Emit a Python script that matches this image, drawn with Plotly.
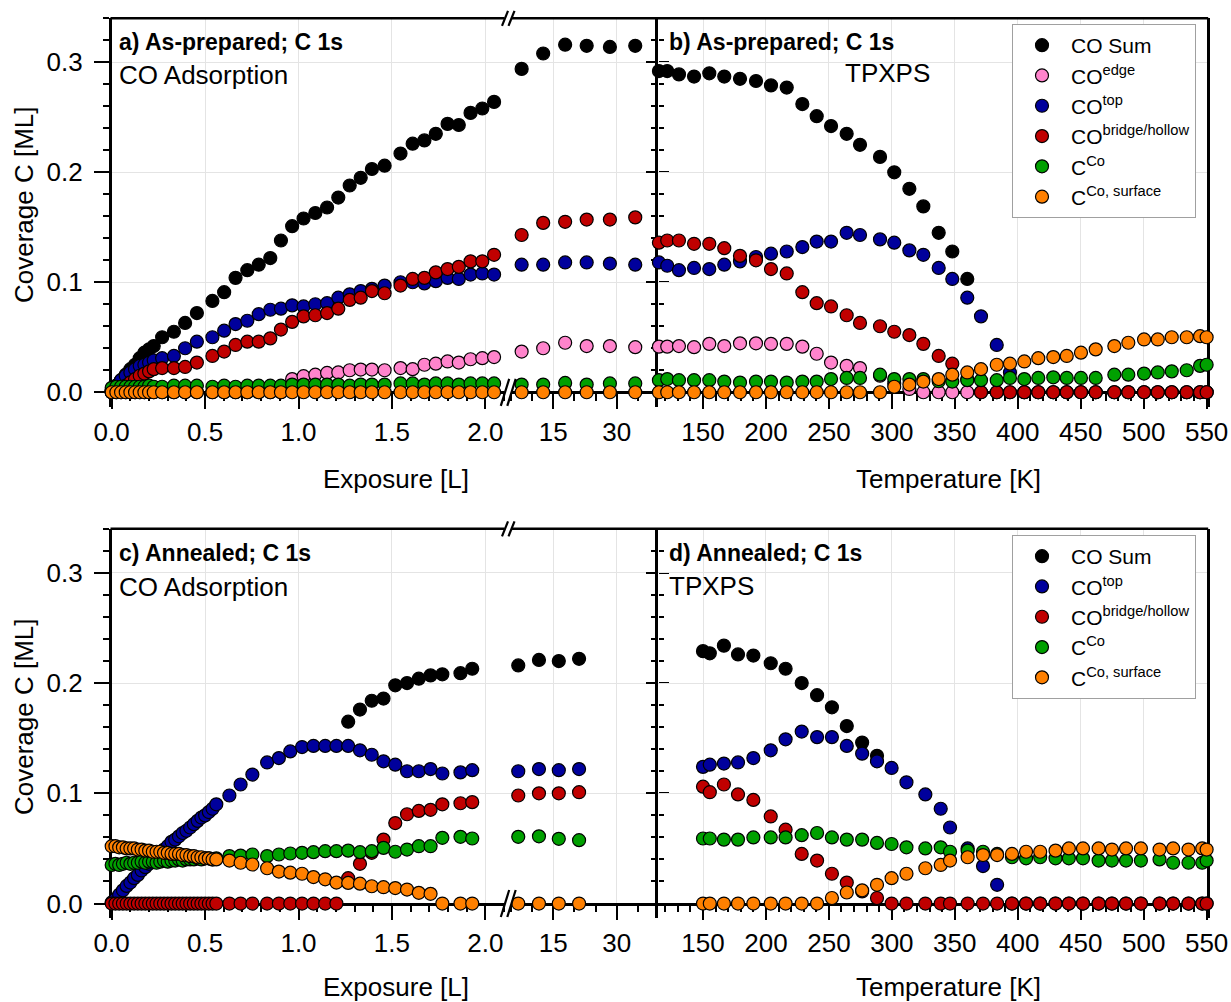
import plotly.graph_objects as go

# ---------------- data ----------------
# Panel a (as-prepared, CO adsorption), exposure segment 0-2.1 L
E_a = [0.0, 0.025, 0.05, 0.075, 0.10, 0.125, 0.15, 0.175, 0.20, 0.225,
       0.27, 0.333, 0.393, 0.456, 0.539, 0.602, 0.663, 0.726, 0.787, 0.849,
       0.906, 0.966, 1.027, 1.09, 1.153, 1.213, 1.274, 1.333, 1.393, 1.461,
       1.546, 1.611, 1.674, 1.735, 1.798, 1.858, 1.921, 1.984, 2.047]
sum_a = [0.002, 0.006, 0.011, 0.016, 0.021, 0.025, 0.031, 0.036, 0.039, 0.042,
         0.050, 0.055, 0.063, 0.072, 0.083, 0.091, 0.104, 0.111, 0.116, 0.122,
         0.138, 0.151, 0.158, 0.163, 0.168, 0.177, 0.188, 0.195, 0.203, 0.206,
         0.217, 0.226, 0.229, 0.235, 0.244, 0.243, 0.254, 0.258, 0.264]
edge_a = [0.0, 0.0, 0.0, 0.0, 0.0, 0.0, 0.0, 0.0, 0.0, 0.0,
          0.0, 0.0, 0.0, 0.0, 0.0, 0.0, 0.0, 0.0, 0.0, 0.0,
          0.0, 0.012, 0.0146, 0.016, 0.0176, 0.018, 0.020, 0.0206, 0.0206, 0.020,
          0.022, 0.021, 0.025, 0.026, 0.028, 0.027, 0.030, 0.031, 0.032]
top_a = [0.002, 0.006, 0.011, 0.015, 0.018, 0.021, 0.024, 0.025, 0.027, 0.029,
         0.031, 0.033, 0.040, 0.046, 0.050, 0.056, 0.062, 0.065, 0.071, 0.075,
         0.076, 0.079, 0.078, 0.080, 0.081, 0.086, 0.089, 0.092, 0.094, 0.097,
         0.100, 0.100, 0.099, 0.101, 0.104, 0.103, 0.107, 0.108, 0.107]
bridge_a = [0.000, 0.002, 0.004, 0.006, 0.009, 0.012, 0.015, 0.017, 0.019, 0.021,
            0.022, 0.022, 0.023, 0.027, 0.033, 0.037, 0.043, 0.046, 0.046, 0.049,
            0.057, 0.064, 0.069, 0.070, 0.072, 0.076, 0.084, 0.086, 0.092, 0.090,
            0.097, 0.103, 0.104, 0.109, 0.112, 0.114, 0.119, 0.119, 0.125]
cco_a = [0.004, 0.005, 0.005, 0.005, 0.005, 0.005, 0.005, 0.005, 0.006, 0.005,
         0.005, 0.006, 0.006, 0.006, 0.005, 0.006, 0.005, 0.006, 0.006, 0.006,
         0.006, 0.007, 0.007, 0.007, 0.007, 0.007, 0.006, 0.007, 0.007, 0.007,
         0.008, 0.008, 0.007, 0.008, 0.008, 0.007, 0.008, 0.008, 0.008]
surf_a = [0.0, 0.0, 0.0, 0.0, 0.0, 0.0, 0.0, 0.0, 0.0, 0.0,
          0.0, 0.0, 0.0, 0.0, 0.0, 0.0, 0.0, 0.0, 0.0, 0.0,
          0.0, 0.0, 0.0, 0.0, 0.0, 0.0, 0.0, 0.0, 0.0, 0.0,
          0.0, 0.0, 0.0, 0.0, 0.0, 0.0, 0.0, 0.0, 0.0]

# Panel a, high-exposure segment (after axis break)
E_a2 = [7.5, 12.6, 17.8, 22.9, 28.4, 34.4]
sum_a2 = [0.294, 0.308, 0.316, 0.315, 0.314, 0.315]
edge_a2 = [0.037, 0.040, 0.045, 0.042, 0.042, 0.041]
top_a2 = [0.116, 0.116, 0.118, 0.118, 0.117, 0.116]
bridge_a2 = [0.143, 0.154, 0.155, 0.157, 0.157, 0.159]
cco_a2 = [0.007, 0.007, 0.0085, 0.007, 0.008, 0.008]
surf_a2 = [0.0, 0.0, 0.0, 0.0, 0.0, 0.0]

# Panel b (as-prepared, TPXPS)
T_b = [115, 121.6, 130.9, 142.9, 155, 166.9, 179.4, 192.1, 204, 216.5,
       228.9, 240.3, 251.7, 264.1, 274.7, 290.6, 301.9, 313.9, 325, 337.2,
       348, 359.9, 370.8, 383.3, 393.8, 405.2, 416.3, 428.2, 438.9, 450.2,
       461.9, 476.7, 487.8, 500.3, 511.2, 522.3, 534.2, 544.8, 550]
sum_b = [0.292, 0.292, 0.289, 0.287, 0.290, 0.287, 0.285, 0.283, 0.279, 0.277,
         0.262, 0.251, 0.242, 0.235, 0.225, 0.214, 0.200, 0.185, 0.169, 0.145,
         0.128, 0.103, None, None, None, None, None, None, None, None,
         None, None, None, None, None, None, None, None, None]
edge_b = [0.0415, 0.0415, 0.042, 0.041, 0.044, 0.042, 0.0445, 0.0445, 0.044, 0.044,
          0.0415, 0.035, 0.027, 0.024, 0.022, 0.015, 0.008, 0.003, 0.0, 0.0,
          0.0, 0.0, 0.0, 0.0, 0.0, 0.0, 0.0, 0.0, 0.0, 0.0,
          0.0, 0.0, 0.0, 0.0, 0.0, 0.0, 0.0, 0.0, 0.0]
top_b = [0.118, 0.115, 0.111, 0.113, 0.112, 0.116, 0.119, 0.123, 0.126, 0.128,
         0.132, 0.137, 0.137, 0.145, 0.143, 0.139, 0.136, 0.129, 0.125, 0.113,
         0.103, 0.086, 0.069, 0.043, 0.018, 0.0, 0.0, 0.0, 0.0, 0.0,
         0.0, 0.0, 0.0, 0.0, 0.0, 0.0, 0.0, 0.0, 0.0]
bridge_b = [0.136, 0.138, 0.138, 0.135, 0.135, 0.131, 0.124, 0.120, 0.112, 0.108,
            0.091, 0.081, 0.078, 0.070, 0.063, 0.060, 0.055, 0.052, 0.044, 0.033,
            0.026, 0.012, 0.0, 0.0, 0.0, 0.0, 0.0, 0.0, 0.0, 0.0,
            0.0, 0.0, 0.0, 0.0, 0.0, 0.0, 0.0, 0.0, 0.0]
cco_b = [0.011, 0.012, 0.011, 0.011, 0.011, 0.0097, 0.0088, 0.0097, 0.0097, 0.0088,
         0.0097, 0.0097, 0.012, 0.013, 0.013, 0.016, 0.012, 0.012, 0.012, 0.010,
         0.0097, 0.011, 0.011, 0.011, 0.013, 0.012, 0.013, 0.0136, 0.013, 0.013,
         0.013, 0.016, 0.016, 0.017, 0.018, 0.019, 0.020, 0.024, 0.025]
surf_b = [0.0, 0.0, 0.0, 0.0, 0.0, 0.0, 0.0, 0.0, 0.0, 0.0,
          0.0, 0.0, 0.0, 0.0, 0.0, 0.0, 0.005, 0.007, 0.0097, 0.012,
          0.016, 0.018, 0.021, 0.025, 0.026, 0.028, 0.031, 0.032, 0.033, 0.036,
          0.039, 0.042, 0.045, 0.048, 0.048, 0.050, 0.050, 0.051, 0.050]

# Panel c (annealed, CO adsorption)
E_c = [0.00, 0.02, 0.04, 0.06, 0.08, 0.10, 0.12, 0.14, 0.16, 0.18,
       0.20, 0.22, 0.24, 0.26, 0.28, 0.30, 0.32, 0.34, 0.36, 0.38,
       0.40, 0.42, 0.44, 0.46, 0.48, 0.50, 0.52, 0.54, 0.56,
       0.63, 0.69, 0.753, 0.832, 0.895, 0.956, 1.019, 1.08, 1.143, 1.203,
       1.266, 1.329, 1.392, 1.455, 1.518, 1.581, 1.644, 1.707, 1.770, 1.867, 1.930]
sum_c = [None, None, None, None, None, None, None, None, None, None,
         None, None, None, None, None, None, None, None, None, None,
         None, None, None, None, None, None, None, None, None,
         None, None, None, None, None, None, None, None, None, None,
         0.165, 0.176, 0.184, 0.186, 0.198, 0.200, 0.204, 0.207, 0.208, 0.209, 0.213]
top_c = [0.001, 0.004, 0.008, 0.012, 0.016, 0.019, 0.023, 0.026, 0.030, 0.033,
         0.036, 0.040, 0.043, 0.046, 0.049, 0.052, 0.056, 0.058, 0.061, 0.064,
         0.066, 0.069, 0.072, 0.075, 0.078, 0.080, 0.083, 0.086, 0.090,
         0.098, 0.108, 0.117, 0.128, 0.132, 0.138, 0.142, 0.143, 0.143, 0.143,
         0.143, 0.139, 0.135, 0.129, 0.126, 0.120, 0.120, 0.122, 0.118, 0.119, 0.121]
bridge_c = [0.0, 0.0, 0.0, 0.0, 0.0, 0.0, 0.0, 0.0, 0.0, 0.0,
            0.0, 0.0, 0.0, 0.0, 0.0, 0.0, 0.0, 0.0, 0.0, 0.0,
            0.0, 0.0, 0.0, 0.0, 0.0, 0.0, 0.0, 0.0, 0.0,
            0.0, 0.0, 0.0, 0.0, 0.0, 0.0, 0.0, 0.0, 0.0, 0.0,
            0.023, 0.036, 0.046, 0.058, 0.073, 0.081, 0.084, 0.085, 0.090, 0.091, 0.092]
cco_c = [0.035, 0.036, 0.035, 0.036, 0.037, 0.036, 0.037, 0.037, 0.038, 0.037,
         0.038, 0.038, 0.037, 0.038, 0.039, 0.038, 0.039, 0.039, 0.040, 0.039,
         0.040, 0.040, 0.040, 0.041, 0.040, 0.041, 0.041, 0.040, 0.041,
         0.043, 0.0435, 0.0445, 0.043, 0.0445, 0.0454, 0.046, 0.0466, 0.0475, 0.0475,
         0.048, 0.0466, 0.0475, 0.0505, 0.047, 0.049, 0.052, 0.052, 0.0596, 0.0605, 0.059]
surf_c = [0.052, 0.052, 0.051, 0.051, 0.050, 0.050, 0.050, 0.049, 0.049, 0.048,
          0.048, 0.047, 0.047, 0.047, 0.046, 0.046, 0.045, 0.045, 0.045, 0.044,
          0.044, 0.043, 0.043, 0.042, 0.042, 0.041, 0.041, 0.040, 0.040,
          0.039, 0.037, 0.0354, 0.032, 0.029, 0.028, 0.027, 0.024, 0.022, 0.019,
          0.0187, 0.018, 0.0157, 0.0148, 0.014, 0.0127, 0.0097, 0.0088, 0.0, 0.0, 0.0]

E_c2 = [6.7, 11.6, 16.3, 21.1]
sum_c2 = [0.216, 0.221, 0.220, 0.222]
top_c2 = [0.120, 0.122, 0.121, 0.122]
bridge_c2 = [0.098, 0.100, 0.100, 0.101]
cco_c2 = [0.0605, 0.061, 0.0587, 0.0575]
surf_c2 = [0.0, 0.0, 0.0, 0.0]

# Panel d (annealed, TPXPS)
T_d = [150, 155.4, 166.6, 177.8, 190, 203.8, 215.6, 228.4, 240.6, 252.4,
       264.2, 276.4, 288.2, 299.8, 311.6, 326.6, 338.8, 346.2, 360.2, 372.4,
       383.6, 395.4, 406.6, 417.8, 430, 440.6, 451.8, 464.2, 474.8, 486,
       497.8, 512.6, 523.4, 535.6, 546.5, 550]
sum_d = [0.229, 0.227, 0.234, 0.226, 0.225, 0.218, 0.213, 0.200, 0.189, 0.178,
         0.161, 0.146, 0.134, None, None, None, None, None, None, None,
         None, None, None, None, None, None, None, None, None, None,
         None, None, None, None, None, None]
top_d = [0.124, 0.126, 0.127, 0.128, 0.132, 0.139, 0.149, 0.156, 0.151, 0.151,
         0.143, 0.136, 0.129, 0.123, 0.110, 0.099, 0.086, 0.069, 0.050, 0.034,
         0.017, 0.0, 0.0, 0.0, 0.0, 0.0, 0.0, 0.0, 0.0, 0.0,
         0.0, 0.0, 0.0, 0.0, 0.0, 0.0]
bridge_d = [0.106, 0.101, 0.108, 0.099, 0.094, 0.079, 0.067, 0.045, 0.039, 0.027,
            0.019, 0.011, 0.005, 0.0, 0.0, 0.0, 0.0, 0.0, 0.0, 0.0,
            0.0, 0.0, 0.0, 0.0, 0.0, 0.0, 0.0, 0.0, 0.0, 0.0,
            0.0, 0.0, 0.0, 0.0, 0.0, 0.0]
cco_d = [0.059, 0.059, 0.058, 0.058, 0.060, 0.060, 0.060, 0.062, 0.064, 0.060,
         0.058, 0.058, 0.055, 0.054, 0.051, 0.050, 0.051, 0.047, 0.048, 0.047,
         0.045, 0.042, 0.041, 0.042, 0.041, 0.041, 0.041, 0.039, 0.039, 0.039,
         0.039, 0.040, 0.037, 0.037, 0.037, 0.039]
surf_d = [0.0, 0.0, 0.0, 0.0, 0.0, 0.0, 0.0, 0.0, 0.0, 0.005,
          0.010, 0.012, 0.017, 0.023, 0.027, 0.032, 0.035, 0.039, 0.042, 0.044,
          0.044, 0.045, 0.047, 0.047, 0.048, 0.050, 0.050, 0.050, 0.049, 0.050,
          0.050, 0.049, 0.050, 0.049, 0.050, 0.049]

names = {
    "sum": "CO Sum",
    "edge": "CO<sup>edge</sup>",
    "top": "CO<sup>top</sup>",
    "bridge": "CO<sup>bridge/hollow</sup>",
    "cco": "C<sup>Co</sup>",
    "surf": "C<sup>Co, surface</sup>",
}
colors = {
    "sum": "#000000",
    "edge": "#FF84CC",
    "top": "#00009C",
    "bridge": "#C00000",
    "cco": "#00A000",
    "surf": "#FF8000",
}

# ---------------- geometry (pixels) ----------------
W, H = 1231, 1002
FONT = "Liberation Sans, Arial, Helvetica, sans-serif"
X0, XB, XM, XR = 111.7, 508.0, 658.3, 1207.0
TOP1, ZERO1, BOT1 = 18.3, 392.3, 407.0
TOP2, ZERO2, BOT2 = 528.8, 903.5, 918.3
YR = [-0.0134, 0.34]


def fx(p):
    return p / W


def fy(p):
    return 1 - p / H


fig = go.Figure()


def add(x, y, key, xa, ya, legend=None):
    fig.add_trace(go.Scatter(
        x=x, y=y, mode="markers", name=names[key],
        marker=dict(size=13, color=colors[key], line=dict(color="black", width=1.2)),
        xaxis=xa, yaxis=ya, cliponaxis=False,
        showlegend=legend is not None, legend=legend if legend else "legend",
    ))


# panel a
for k, arr in [("sum", sum_a), ("edge", edge_a), ("top", top_a), ("bridge", bridge_a),
               ("cco", cco_a), ("surf", surf_a)]:
    add(E_a, arr, k, "x", "y")
for k, arr in [("sum", sum_a2), ("edge", edge_a2), ("top", top_a2), ("bridge", bridge_a2),
               ("cco", cco_a2), ("surf", surf_a2)]:
    add(E_a2, arr, k, "x2", "y2")
# panel b
for k, arr in [("sum", sum_b), ("edge", edge_b), ("top", top_b), ("bridge", bridge_b),
               ("cco", cco_b), ("surf", surf_b)]:
    add(T_b, arr, k, "x3", "y3", legend="legend")
# panel c
for k, arr in [("sum", sum_c), ("top", top_c), ("bridge", bridge_c), ("cco", cco_c),
               ("surf", surf_c)]:
    add(E_c, arr, k, "x4", "y4")
for k, arr in [("sum", sum_c2), ("top", top_c2), ("bridge", bridge_c2), ("cco", cco_c2),
               ("surf", surf_c2)]:
    add(E_c2, arr, k, "x5", "y5")
# panel d
for k, arr in [("sum", sum_d), ("top", top_d), ("bridge", bridge_d), ("cco", cco_d),
               ("surf", surf_d)]:
    add(T_d, arr, k, "x6", "y6", legend="legend2")

GRID = "#e4e4e4"
tickfont = dict(size=26, color="black", family=FONT)


def xaxis(dom, rng, zero_px, **kw):
    d = dict(domain=[fx(dom[0]), fx(dom[1])], range=rng, anchor="free",
             position=fy(zero_px), showline=True, linecolor="black", linewidth=2.5,
             ticks="outside", ticklen=15, tickwidth=2, tickcolor="black",
             showgrid=True, gridcolor=GRID, gridwidth=1, zeroline=False,
             automargin=False, layer="below traces", tickfont=tickfont,
             ticklabelstandoff=1)
    d.update(kw)
    return d


def yaxis(dom, anchor, **kw):
    d = dict(domain=[fy(dom[1]), fy(dom[0])], range=YR, anchor=anchor,
             dtick=0.1, tick0=0, tickformat=".1f", showgrid=True, gridcolor=GRID,
             gridwidth=1, zeroline=False, tickwidth=2, tickcolor="black",
             automargin=False, layer="below traces", tickfont=tickfont)
    d.update(kw)
    return d


minor_x1 = dict(ticks="outside", ticklen=7, dtick=0.1, tick0=0, tickwidth=2,
                tickcolor="black", showgrid=False)
minor_x2 = dict(ticks="outside", ticklen=7, dtick=5, tick0=0, tickwidth=2,
                tickcolor="black", showgrid=False)
minor_x3 = dict(ticks="outside", ticklen=7, dtick=10, tick0=0, tickwidth=2,
                tickcolor="black", showgrid=False)
minor_yl = dict(ticks="outside", ticklen=6, dtick=0.02, tick0=0, tickwidth=2,
                tickcolor="black", showgrid=False)
minor_yc = dict(ticks="outside", ticklen=5, dtick=0.02, tick0=0, tickwidth=2,
                tickcolor="black", showgrid=False)

layout_axes = {}
for row, (top, zero, bot) in enumerate([(TOP1, ZERO1, BOT1), (TOP2, ZERO2, BOT2)]):
    n = row * 3
    a1, a2, a3 = ("x", "x2", "x3") if row == 0 else ("x4", "x5", "x6")
    layout_axes["xaxis" + ("" if n == 0 else str(n + 1))] = xaxis(
        (X0, XB), [0, 2.1215], zero, dtick=0.5, tick0=0, tickformat=".1f", minor=minor_x1)
    layout_axes["xaxis" + str(n + 2)] = xaxis(
        (XB, XM), [4.27, 39.86], zero, tickvals=[15, 30], ticktext=["15", "30"],
        minor=minor_x2)
    layout_axes["xaxis" + str(n + 3)] = xaxis(
        (XM, XR), [114.5, 550.3], zero, dtick=50, tick0=0, minor=minor_x3)
    layout_axes["yaxis" + ("" if n == 0 else str(n + 1))] = yaxis(
        (top, bot), a1, side="left", showline=True, linecolor="black", linewidth=2.5,
        ticks="outside", ticklen=15, minor=minor_yl, ticklabelstandoff=6)
    layout_axes["yaxis" + str(n + 2)] = yaxis(
        (top, bot), a2, side="right", showline=False, ticks="outside", ticklen=10,
        minor=minor_yc, showticklabels=False)
    layout_axes["yaxis" + str(n + 3)] = yaxis(
        (top, bot), a3, side="left", showline=True, mirror=True, linecolor="black",
        linewidth=2.5, ticks="outside", ticklen=10, minor=minor_yc,
        showticklabels=False)

# ---------------- frame shapes ----------------
shapes = []


def line(x0, y0, x1, y1, color="black", width=2.5):
    shapes.append(dict(type="line", xref="paper", yref="paper",
                       x0=fx(x0), y0=fy(y0), x1=fx(x1), y1=fy(y1),
                       line=dict(color=color, width=width), layer="above"))


for top, zero in [(TOP1, ZERO1), (TOP2, ZERO2)]:
    # top border
    line(X0 - 1.2, top, XR + 1.2, top)
    # breaks on top border and on zero line
    for yc, half in [(top, 7.5), (zero, 13.5)]:
        line(504.5, yc, 511.5, yc, color="white", width=5)
        line(502.0 - (half - 7.5) * 0.2, yc + half, 508.0 + (half - 7.5) * 0.2, yc - half, width=2.2)
        line(508.5 - (half - 7.5) * 0.2, yc + half, 514.5 + (half - 7.5) * 0.2, yc - half, width=2.2)

# ---------------- annotations ----------------
ann = []


def text(x, y, s, size=26, bold=False, xanchor="left", angle=0):
    ann.append(dict(x=fx(x), y=fy(y), xref="paper", yref="paper", text=s,
                    showarrow=False, xanchor=xanchor, yanchor="middle", textangle=angle,
                    font=dict(size=size, family=FONT, color="black",
                              weight="bold" if bold else "normal")))


text(117, 42, "a) As-prepared; C 1s", size=23, bold=True)
text(117, 75, "CO Adsorption")
text(667, 42, "b) As-prepared; C 1s", size=23, bold=True)
text(932, 73, "TPXPS", xanchor="right")
text(117, 553, "c) Annealed; C 1s", size=23, bold=True)
text(117, 587, "CO Adsorption")
text(667, 553, "d) Annealed; C 1s", size=23, bold=True)
text(667, 586, "TPXPS")
text(396, 479, "Exposure [L]", xanchor="center")
text(948, 479, "Temperature [K]", xanchor="center")
text(396, 987, "Exposure [L]", xanchor="center")
text(948, 987, "Temperature [K]", xanchor="center")
text(24, 205, "Coverage C [ML]", xanchor="center", angle=-90)
text(24, 717, "Coverage C [ML]", xanchor="center", angle=-90)

legend_common = dict(xanchor="left", yanchor="top", bgcolor="white",
                     bordercolor="#a0a0a0", borderwidth=1, itemwidth=48,
                     font=dict(size=21, family=FONT, color="black"),
                     tracegroupgap=0)

fig.update_layout(
    width=W, height=H,
    margin=dict(l=0, r=0, t=0, b=0, pad=0, autoexpand=False),
    paper_bgcolor="white", plot_bgcolor="white",
    font=dict(family=FONT, color="black"),
    shapes=shapes, annotations=ann,
    legend=dict(x=fx(1012), y=fy(24), **legend_common),
    legend2=dict(x=fx(1012), y=fy(535), **legend_common),
    **layout_axes,
)

fig.write_html(
    "out.html",
    config={"displayModeBar": False},
    post_script="document.body.style.margin='0';document.body.style.padding='0';"
                "document.body.style.overflow='hidden';",
)
